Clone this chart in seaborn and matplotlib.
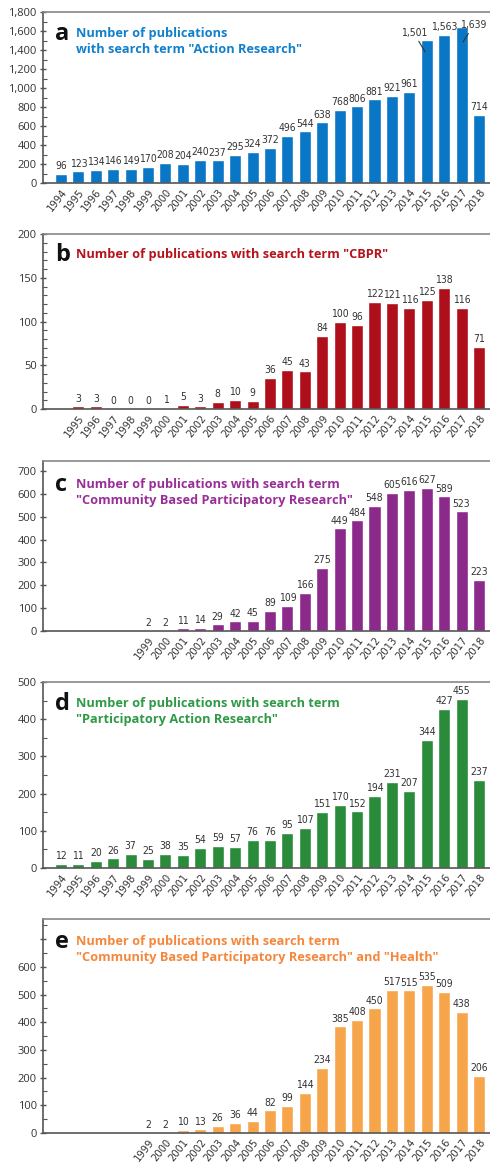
import matplotlib
matplotlib.use("Agg")
from matplotlib import pyplot as plt
from matplotlib.ticker import MultipleLocator, FixedLocator
import seaborn as sns
import pandas as pd

YEARS = list(range(1994, 2019))

# a: "Action Research"
YEARS_A = list(range(1994, 2019))
VALUES_A = [96, 123, 134, 146, 149, 170, 208, 204, 240, 237, 295, 324, 372,
            496, 544, 638, 768, 806, 881, 921, 961, 1501, 1563, 1639, 714]

# b: "CBPR"
YEARS_B = list(range(1995, 2019))
VALUES_B = [3, 3, 0, 0, 0, 1, 5, 3, 8, 10, 9, 36, 45, 43, 84, 100, 96,
            122, 121, 116, 125, 138, 116, 71]

# c: "Community Based Participatory Research"
YEARS_C = list(range(1999, 2019))
VALUES_C = [2, 2, 11, 14, 29, 42, 45, 89, 109, 166, 275, 449, 484, 548,
            605, 616, 627, 589, 523, 223]

# d: "Participatory Action Research"
YEARS_D = list(range(1994, 2019))
VALUES_D = [12, 11, 20, 26, 37, 25, 38, 35, 54, 59, 57, 76, 76, 95, 107,
            151, 170, 152, 194, 231, 207, 344, 427, 455, 237]

# e: "Community Based Participatory Research" and "Health"
YEARS_E = list(range(1999, 2019))
VALUES_E = [2, 2, 10, 13, 26, 36, 44, 82, 99, 144, 234, 385, 408, 450,
            517, 515, 535, 509, 438, 206]

PANELS = [
    dict(letter="a", years=YEARS_A, values=VALUES_A,
         title='Number of publications\nwith search term "Action Research"',
         bar="#0a77c6", text="#1180cc", ylim=1800, major=200, minor=100,
         rect=[12, 183], title_y=34),
    dict(letter="b", years=YEARS_B, values=VALUES_B,
         title='Number of publications with search term "CBPR"',
         bar="#ae0f1a", text="#b5121b", ylim=200, major=50, minor=10,
         rect=[234, 409], title_y=255),
    dict(letter="c", years=YEARS_C, values=VALUES_C,
         title='Number of publications with search term\n'
               '"Community Based Participatory Research"',
         bar="#8c2a8c", text="#9a2e98", ylim=744, major=100, minor=None,
         rect=[461, 631], title_y=485),
    dict(letter="d", years=YEARS_D, values=VALUES_D,
         title='Number of publications with search term\n'
               '"Participatory Action Research"',
         bar="#2a8b3a", text="#2e9a45", ylim=500, major=100, minor=50,
         rect=[682, 868], title_y=704),
    dict(letter="e", years=YEARS_E, values=VALUES_E,
         title='Number of publications with search term\n'
               '"Community Based Participatory Research" and "Health"',
         bar="#f7a54b", text="#f5873d", ylim=773, major=100, minor=50,
         rect=[919, 1133], title_y=942, max_label=600),
]

W, H = 490, 1163
sns.set_style("ticks")
plt.rcParams["font.family"] = ["Open Sans", "DejaVu Sans"]
NARROW = dict(family=["Liberation Sans Narrow", "DejaVu Sans"], fontstretch="condensed")

fig = plt.figure(figsize=(W / 100, H / 100), dpi=100)

for p in PANELS:
    top, bottom = p["rect"]
    ax = fig.add_axes([43 / W, 1 - bottom / H, 1 - 43 / W, (bottom - top) / H])
    df = pd.DataFrame({"year": [str(y) for y in p["years"]], "n": p["values"]})
    sns.barplot(data=df, x="year", y="n", order=[str(y) for y in YEARS],
                color=p["bar"], saturation=1, width=0.69, ax=ax)

    ax.set_xlim(-1.03, len(YEARS) - 0.37)
    ax.set_ylim(0, p["ylim"])
    ax.set_xlabel("")
    ax.set_ylabel("")

    # value labels
    labels = [f"{v:,}" for v in p["values"]]
    if p["letter"] == "a":
        labels[YEARS_A.index(2015)] = ""
        labels[YEARS_A.index(2017)] = ""
    ax.bar_label(ax.containers[0], labels=labels, padding=2, fontsize=7.5,
                 color="#333333", **NARROW)
    if p["letter"] == "a":
        i15, i17 = YEARS.index(2015), YEARS.index(2017)
        v15, v17 = VALUES_A[YEARS_A.index(2015)], VALUES_A[YEARS_A.index(2017)]
        line = dict(arrowstyle="-", color="#333333", lw=0.8, shrinkA=0, shrinkB=0)
        ax.annotate(f"{v15:,}", xy=(i15 - 0.1, v15 - 120), xytext=(i15 - 0.74, v15 + 25),
                    ha="center", va="bottom", fontsize=7.5, color="#333333",
                    arrowprops=line, **NARROW)
        ax.annotate(f"{v17:,}", xy=(i17 + 0.08, v17 - 155), xytext=(i17 + 0.68, v17 - 30),
                    ha="center", va="bottom", fontsize=7.5, color="#333333",
                    arrowprops=line, **NARROW)

    # x tick labels only for years with data
    ax.set_xticks(range(len(YEARS)))
    ax.set_xticklabels([str(y) if y in p["years"] else "" for y in YEARS],
                       rotation=52, ha="right", rotation_mode="anchor",
                       fontsize=8, color="#333333", **NARROW)
    ax.tick_params(axis="x", length=0, pad=3)

    # y ticks
    max_label = p.get("max_label", p["ylim"])
    majors = list(range(0, int(p["ylim"]) + 1, p["major"]))
    ax.yaxis.set_major_locator(FixedLocator(majors))
    ax.set_yticklabels([f"{m:,}" if m <= max_label else "" for m in majors],
                       fontsize=8, color="#333333")
    if p["minor"]:
        ax.yaxis.set_minor_locator(MultipleLocator(p["minor"]))
    ax.tick_params(axis="y", which="major", direction="inout", length=5,
                   width=1, color="#555555", pad=2)
    ax.tick_params(axis="y", which="minor", direction="in", length=3,
                   width=0.8, color="#555555")

    for side in ["left", "bottom"]:
        ax.spines[side].set_color("#555555")
        ax.spines[side].set_linewidth(1.2)
    ax.spines["top"].set_visible(True)
    ax.spines["top"].set_color("#888888")
    ax.spines["top"].set_linewidth(1.2)
    ax.spines["right"].set_visible(False)

    # panel letter and title
    ty = 1 - p["title_y"] / H
    fig.text(55 / W, ty, p["letter"], fontsize=17, fontweight="bold",
             color="#111111", va="center", ha="left")
    fig.text(76 / W, ty + 7 / H, p["title"], fontsize=9.2, fontweight="bold",
             color=p["text"], va="top", ha="left", linespacing=1.3)

fig.savefig("out.png", dpi=100)
